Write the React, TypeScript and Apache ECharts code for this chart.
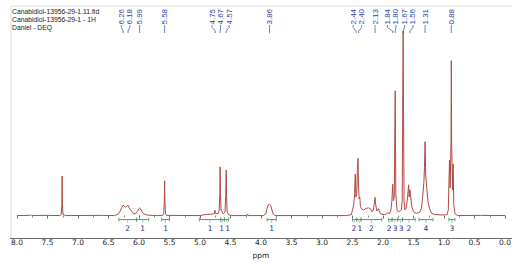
import React, { useEffect, useRef } from "react";
import * as echarts from "echarts";

// Header lines
const headerLines = ["Canabidiol-13956-29-1.11.fid", "Canabidiol-13956-29-1 - 1H", "Daniel - DEQ"];

// Spectrum points [ppm, intensity]
const spectrumAromatic: [number, number][] = [
  [8.0, 0], [7.8, 0.1], [7.78, 0.4], [7.76, 0.05], [7.5, 0.1], [7.3, 0], [7.275, 0.6], [7.265, 6], [7.26, 21.4],
  [7.255, 6], [7.245, 0.6], [7.2, 0], [6.6, 0.1],
];
const spectrumOlefinic: [number, number][] = [
  [6.4, 0], [6.34, 0.8], [6.3, 3], [6.27, 5.2], [6.26, 5.6], [6.22, 4.6], [6.19, 5.3], [6.18, 5.6], [6.15, 3.5],
  [6.1, 1.5], [6.06, 0.8], [6.03, 2], [6.0, 3.8], [5.99, 4.1], [5.97, 3.5], [5.94, 1.5], [5.9, 0.6], [5.85, 0.2],
  [5.7, 0], [5.61, 0.1], [5.595, 1], [5.585, 8], [5.58, 18.8], [5.575, 8], [5.565, 1], [5.55, 0.1],
  [5.0, 0], [4.9, 0.6], [4.8, 0.8], [4.765, 1], [4.755, 2.9], [4.745, 1], [4.7, 1.2], [4.685, 3], [4.675, 12],
  [4.67, 26.4], [4.665, 12], [4.655, 3], [4.62, 1], [4.59, 2], [4.578, 11], [4.57, 24.7], [4.565, 11],
  [4.555, 2], [4.53, 0.3], [4.45, 0], [4.23, 0], [4.22, 0.9], [4.21, 0],
];
const spectrumAliphatic: [number, number][] = [
  [3.96, 0], [3.92, 1], [3.9, 4], [3.88, 6], [3.86, 6.1], [3.84, 5.5], [3.82, 3], [3.8, 0.8], [3.77, 0],
  [2.6, 0], [2.52, 0.5], [2.5, 3], [2.48, 6], [2.465, 12], [2.455, 22.5], [2.445, 10], [2.43, 12], [2.42, 25],
  [2.41, 31], [2.4, 15], [2.39, 9], [2.38, 10], [2.37, 5], [2.35, 3.5], [2.32, 3], [2.28, 3.8], [2.24, 4.2],
  [2.21, 3.8], [2.18, 2], [2.16, 3], [2.14, 7], [2.13, 9.8], [2.12, 6], [2.1, 2.5], [2.08, 3.5], [2.07, 3.8],
  [2.06, 2], [2.03, 0.8], [1.98, 0.5], [1.95, 0.8], [1.92, 1.5], [1.89, 1.2], [1.87, 3], [1.855, 8], [1.84, 17],
  [1.83, 8], [1.815, 10], [1.8, 67.6], [1.79, 12], [1.77, 3], [1.75, 2], [1.72, 2.5], [1.7, 3], [1.685, 8],
  [1.67, 100], [1.655, 8], [1.64, 3], [1.62, 4], [1.6, 9], [1.58, 16.7], [1.57, 10], [1.56, 14], [1.55, 12],
  [1.53, 5], [1.5, 2], [1.45, 1.2], [1.4, 1.8], [1.37, 4], [1.35, 10], [1.33, 18], [1.32, 26], [1.31, 40],
  [1.3, 22], [1.28, 14], [1.26, 7], [1.23, 3], [1.2, 1.2], [1.15, 0.6], [1.05, 0.3], [0.95, 0.5], [0.93, 3],
  [0.91, 30], [0.9, 15], [0.885, 40], [0.88, 84], [0.875, 40], [0.86, 14], [0.85, 28], [0.84, 6], [0.82, 1],
  [0.78, 0], [0.4, 0.1], [0.0, 0],
];

// Picked peaks (ppm)
const peakPpm = [6.26, 6.18, 5.99, 5.58, 4.75, 4.67, 4.57, 3.86, 2.44, 2.4, 2.13, 1.84, 1.8, 1.67, 1.56, 1.31, 0.88];

// Integral regions: from ppm, to ppm, value
const integralFrom = [6.33, 6.04, 5.63, 5.01, 4.66, 4.6, 3.9, 2.5, 2.43, 2.36, 1.91, 1.85, 1.76, 1.68, 1.41, 0.92];
const integralTo = [6.04, 5.84, 5.5, 4.66, 4.6, 4.53, 3.75, 2.43, 2.36, 2.02, 1.85, 1.76, 1.68, 1.47, 1.18, 0.82];
const integralValues = ["2", "1", "1", "1", "1", "1", "1", "2", "1", "2", "2", "3", "3", "2", "4", "3"];

// x axis ticks
const tickLabels = ["8.0", "7.5", "7.0", "6.5", "6.0", "5.5", "5.0", "4.5", "4.0", "3.5", "3.0", "2.5", "2.0", "1.5", "1.0", "0.5", "0.0"];

function repel(xs: number[], gap: number): number[] {
  let cl = xs.map((x) => ({ xs: [x] }));
  const center = (c: { xs: number[] }) => c.xs.reduce((a, b) => a + b, 0) / c.xs.length;
  const left = (c: { xs: number[] }) => center(c) - ((c.xs.length - 1) * gap) / 2;
  const right = (c: { xs: number[] }) => center(c) + ((c.xs.length - 1) * gap) / 2;
  let merged = true;
  while (merged) {
    merged = false;
    for (let i = 0; i < cl.length - 1; i++) {
      if (left(cl[i + 1]) - right(cl[i]) < gap) {
        cl[i] = { xs: cl[i].xs.concat(cl[i + 1].xs) };
        cl.splice(i + 1, 1);
        merged = true;
        break;
      }
    }
  }
  const out: number[] = [];
  cl.forEach((c) => {
    const l = left(c);
    c.xs.forEach((_, k) => out.push(l + k * gap));
  });
  return out;
}

const FONT = '"DejaVu Sans", Verdana, sans-serif';
const LFONT = '"Liberation Sans", Arial, sans-serif';
const LABEL_BLUE = "#3344a4";
const INT_GREEN = "#4a9e62";
const INT_BLUE = "#1f2d8a";

export default function App() {
  const ref = useRef<HTMLDivElement>(null);
  useEffect(() => {
    if (!ref.current) return;
    const chart = echarts.init(ref.current, null, { renderer: "svg" });
    const spectrum = [...spectrumAromatic, ...spectrumOlefinic, ...spectrumAliphatic];
    const tickValues = tickLabels.map((t) => parseFloat(t));
    const integralData = integralFrom.map((f, i) => [f, integralTo[i], i]);

    chart.setOption({
      animation: false,
      backgroundColor: "#ffffff",
      grid: { left: 17, right: 19, top: 31, bottom: 25.5 },
      xAxis: {
        type: "value",
        min: 0,
        max: 8,
        interval: 0.5,
        inverse: true,
        axisLine: { show: false },
        axisTick: { show: true, length: 3, lineStyle: { color: "#6a6a6a", width: 1 } },
        minorTick: { show: true, splitNumber: 2, length: 2, lineStyle: { color: "#8a8a8a" } },
        splitLine: { show: false },
        axisLabel: {
          showMinLabel: true,
          showMaxLabel: true,
          margin: 5,
          fontSize: 7.5,
          color: "#1a1a1a",
          fontFamily: FONT,
          formatter: (v: number) => {
            const i = tickValues.findIndex((t) => Math.abs(t - v) < 1e-6);
            return i >= 0 ? tickLabels[i] : "";
          },
        },
        name: "ppm",
        nameLocation: "middle",
        nameGap: 15,
        nameTextStyle: { fontSize: 7.5, color: "#1a1a1a", fontFamily: FONT },
      },
      yAxis: { type: "value", min: -9.5, max: 100, show: false },
      graphic: [
        { type: "line", shape: { x1: 11, y1: 6, x2: 512, y2: 6 }, style: { stroke: "#dcdcdc", lineWidth: 1 }, silent: true },
        { type: "line", shape: { x1: 11, y1: 6, x2: 11, y2: 238.5 }, style: { stroke: "#dcdcdc", lineWidth: 1 }, silent: true },
        { type: "line", shape: { x1: 10, y1: 238.5, x2: 512, y2: 238.5 }, style: { stroke: "#6a6a6a", lineWidth: 1 }, silent: true },
        ...headerLines.map((t, i) => ({
          type: "text",
          x: 12,
          y: 11.5 + i * 8,
          style: { text: t, fill: "#1a1a1a", font: `6.8px ${LFONT}`, align: "left", verticalAlign: "middle" },
          silent: true,
        })),
      ],
      series: [
        {
          type: "line",
          data: spectrum,
          showSymbol: false,
          symbol: "none",
          lineStyle: { color: "#b04a44", width: 1 },
          z: 3,
        },
        {
          type: "custom",
          clip: false,
          data: integralData,
          renderItem: (params: any, api: any) => {
            const idx = params.dataIndex;
            const x1 = api.coord([integralFrom[idx], 0])[0];
            const x2 = api.coord([integralTo[idx], 0])[0];
            const yb = api.coord([0, 0])[1];
            const ly = yb + 4;
            const centers = integralFrom.map((f, i) => api.coord([(f + integralTo[i]) / 2, 0])[0]);
            const lx = repel(centers, 6)[idx];
            const cx = centers[idx];
            return {
              type: "group",
              children: [
                { type: "line", shape: { x1, y1: ly, x2, y2: ly }, style: { stroke: INT_GREEN, lineWidth: 1 } },
                { type: "line", shape: { x1, y1: ly - 2, x2: x1, y2: ly + 2 }, style: { stroke: INT_GREEN, lineWidth: 0.8 } },
                { type: "line", shape: { x1: x2, y1: ly - 2, x2, y2: ly + 2 }, style: { stroke: INT_GREEN, lineWidth: 0.8 } },
                { type: "polyline", shape: { points: [[cx, ly], [cx, ly + 1.5], [lx, ly + 3.5]] }, style: { stroke: "#7a8ac0", lineWidth: 0.6, fill: null } },
                {
                  type: "text",
                  x: lx,
                  y: ly + 9,
                  style: { text: integralValues[idx], fill: INT_BLUE, font: `7.5px ${FONT}`, align: "center", verticalAlign: "middle" },
                },
              ],
            };
          },
          z: 4,
        },
        {
          type: "custom",
          clip: false,
          data: peakPpm.map((p, i) => [p, i]),
          renderItem: (params: any, api: any) => {
            const idx = params.dataIndex;
            const xs = peakPpm.map((p) => api.coord([p, 0])[0]);
            const lx = repel(xs, 8.5)[idx];
            const px = xs[idx];
            return {
              type: "group",
              children: [
                {
                  type: "text",
                  x: lx,
                  y: 24.5,
                  rotation: Math.PI / 2,
                  style: { text: peakPpm[idx].toFixed(2), fill: LABEL_BLUE, font: `8px ${LFONT}`, align: "left", verticalAlign: "middle" },
                },
                {
                  type: "polyline",
                  shape: { points: [[lx, 25], [lx, 27.5], [px, 31], [px, 33]] },
                  style: { stroke: LABEL_BLUE, lineWidth: 0.7, fill: null },
                },
              ],
            };
          },
          z: 5,
        },
      ],
    });
    return () => chart.dispose();
  }, []);
  return <div ref={ref} style={{ position: "absolute", left: 0, top: 0, width: 524, height: 264 }} />;
}
